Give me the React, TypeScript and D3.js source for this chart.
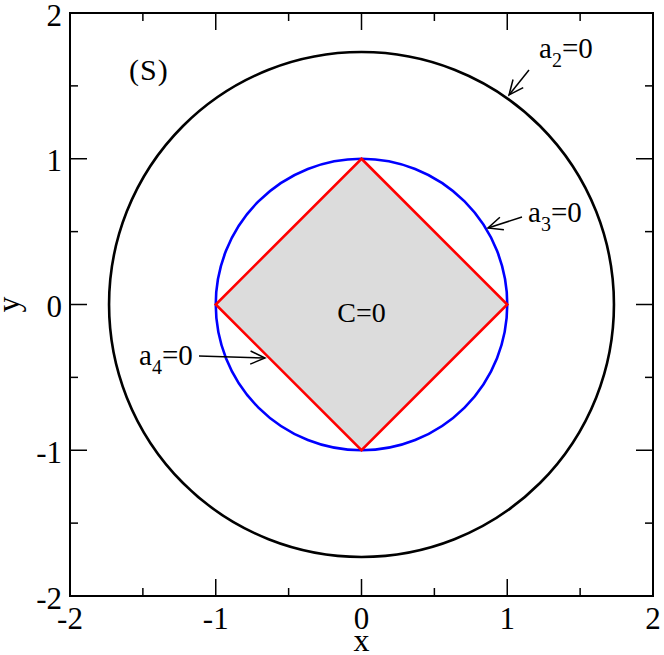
import React from "react";
import * as d3 from "d3";

const majorTicks = [-2, -1, 0, 1, 2];
const minorTicks = [-1.5, -0.5, 0.5, 1.5];
const tickLabels = ["-2", "-1", "0", "1", "2"];
const circleRadii = [Math.sqrt(3), 1];
const circleColors = ["#000000", "#0000ff"];
const diamondX = [0, 1, 0, -1];
const diamondY = [1, 0, -1, 0];

const W = 664, H = 655;
const L = 70, R = 653, T = 13, B = 596;
const FONT = "'Liberation Serif', 'Times New Roman', Times, serif";

export default function App() {
  const x = d3.scaleLinear().domain([-2, 2]).range([L, R]);
  const y = d3.scaleLinear().domain([-2, 2]).range([B, T]);
  const diamond = d3.line<number>().x((_, i) => x(diamondX[i])).y((_, i) => y(diamondY[i])).curve(d3.curveLinearClosed)(diamondX.map((d) => d)) || "";

  const arrow = (x1: number, y1: number, x2: number, y2: number, key: string) => {
    const ang = Math.atan2(y2 - y1, x2 - x1);
    const len = 16, spread = 0.42;
    const p1 = [x2 - len * Math.cos(ang - spread), y2 - len * Math.sin(ang - spread)];
    const p2 = [x2 - len * Math.cos(ang + spread), y2 - len * Math.sin(ang + spread)];
    return (
      <g key={key} stroke="#000" strokeWidth={1.5} fill="none">
        <line x1={x1} y1={y1} x2={x2} y2={y2} />
        <polyline points={`${p1[0]},${p1[1]} ${x2},${y2} ${p2[0]},${p2[1]}`} />
      </g>
    );
  };

  const sub = (tx: number, ty: number, s: string, key: string) => (
    <text key={key} x={tx} y={ty} fontSize={29} fill="#000">
      a<tspan fontSize={20} dy={9}>{s}</tspan><tspan dy={-9}>=0</tspan>
    </text>
  );

  return (
    <svg width={W} height={H} style={{ position: "absolute", left: 0, top: 0, fontFamily: FONT }}>
      <rect x={0} y={0} width={W} height={H} fill="#fff" />
      <path d={diamond} fill="#dcdcdc" stroke="none" />
      {circleRadii.map((r, i) => (
        <circle key={i} cx={x(0)} cy={y(0)} r={x(r) - x(0)} fill="none" stroke={circleColors[i]} strokeWidth={2.6} />
      ))}
      <path d={diamond} fill="none" stroke="#ff0000" strokeWidth={2.6} strokeLinejoin="miter" />
      <rect x={L} y={T} width={R - L} height={B - T} fill="none" stroke="#000" strokeWidth={2} />
      {majorTicks.map((t, i) => (
        <g key={"mj" + i} stroke="#000" strokeWidth={1.5}>
          <line x1={x(t)} x2={x(t)} y1={B} y2={B - 17} />
          <line x1={x(t)} x2={x(t)} y1={T} y2={T + 17} />
          <line x1={L} x2={L + 17} y1={y(t)} y2={y(t)} />
          <line x1={R} x2={R - 17} y1={y(t)} y2={y(t)} />
        </g>
      ))}
      {minorTicks.map((t, i) => (
        <g key={"mn" + i} stroke="#000" strokeWidth={1.5}>
          <line x1={x(t)} x2={x(t)} y1={B} y2={B - 8} />
          <line x1={x(t)} x2={x(t)} y1={T} y2={T + 8} />
          <line x1={L} x2={L + 8} y1={y(t)} y2={y(t)} />
          <line x1={R} x2={R - 8} y1={y(t)} y2={y(t)} />
        </g>
      ))}
      {majorTicks.map((t, i) => (
        <text key={"xl" + i} x={x(t)} y={629} textAnchor="middle" fontSize={31} fill="#000">{tickLabels[i]}</text>
      ))}
      {majorTicks.map((t, i) => (
        <text key={"yl" + i} x={62} y={y(t) + 12.5} textAnchor="end" fontSize={31} fill="#000">{tickLabels[i]}</text>
      ))}
      <text x={x(0)} y={651} textAnchor="middle" fontSize={32} fill="#000">x</text>
      <text transform={`translate(19,${y(0)}) rotate(-90)`} textAnchor="middle" fontSize={32} fill="#000">y</text>
      <text x={129} y={80} fontSize={30} fill="#000" letterSpacing={1}>(S)</text>
      <text x={x(0)} y={322} textAnchor="middle" fontSize={28} fill="#000">C=0</text>
      {sub(539, 58, "2", "s2")}
      {sub(528, 222, "3", "s3")}
      {sub(139, 365, "4", "s4")}
      {arrow(529, 70, 509, 95, "a2")}
      {arrow(522, 217, 488, 228, "a3")}
      {arrow(199, 356, 265, 358, "a4")}
    </svg>
  );
}
